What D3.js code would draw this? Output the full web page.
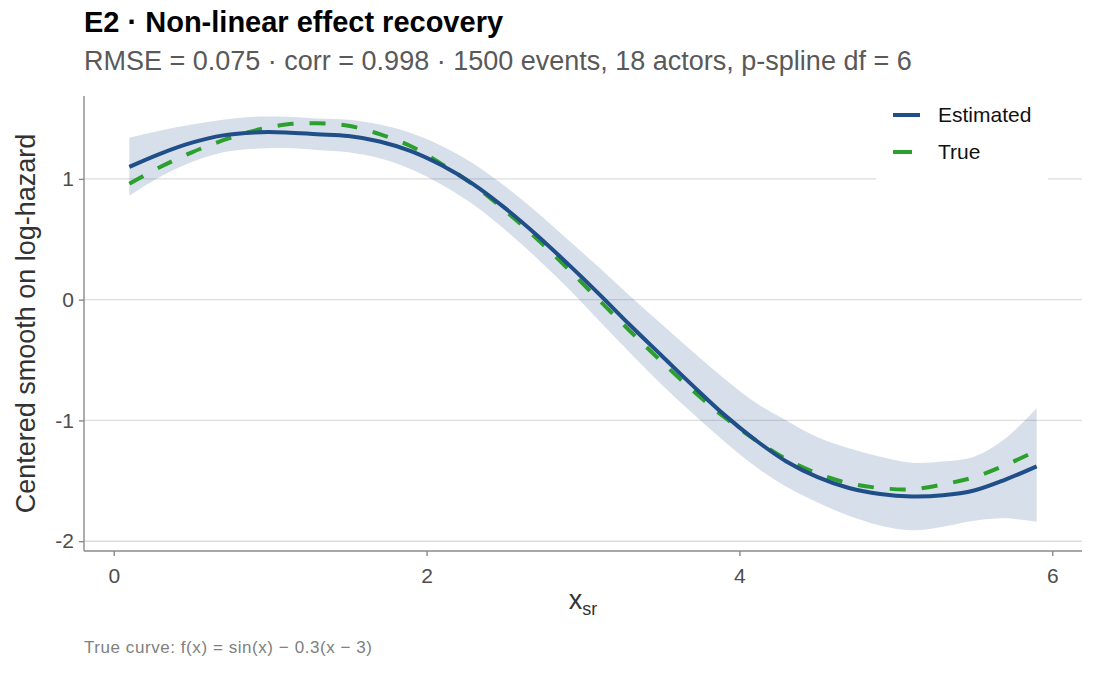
<!DOCTYPE html>
<html>
<head>
<meta charset="utf-8">
<script src="https://cdn.jsdelivr.net/npm/d3@7/dist/d3.min.js"></script>
<style>
  html, body { margin: 0; padding: 0; background: #ffffff; }
  svg { display: block; font-family: "Liberation Sans", Arial, sans-serif; }
</style>
</head>
<body>
<svg id="chart" width="1095" height="675"></svg>
<script>
// ---- data ----
const xGrid     = [0.1, 0.3, 0.5, 0.7, 0.9, 1.1, 1.3, 1.5, 1.7, 1.9, 2.1, 2.3, 2.5, 2.7, 2.9, 3.1, 3.3, 3.5, 3.7, 3.9, 4.1, 4.3, 4.5, 4.7, 4.9, 5.1, 5.3, 5.5, 5.7, 5.9];
const estimated = [1.10, 1.21, 1.30, 1.36, 1.385, 1.385, 1.37, 1.355, 1.31, 1.23, 1.11, 0.955, 0.76, 0.54, 0.30, 0.05, -0.21, -0.46, -0.71, -0.95, -1.16, -1.34, -1.47, -1.56, -1.61, -1.63, -1.62, -1.58, -1.49, -1.38];
const lowerCI   = [0.86, 1.02, 1.14, 1.22, 1.25, 1.255, 1.24, 1.22, 1.17, 1.08, 0.95, 0.785, 0.58, 0.35, 0.10, -0.17, -0.44, -0.70, -0.94, -1.17, -1.38, -1.55, -1.68, -1.79, -1.87, -1.91, -1.88, -1.83, -1.81, -1.84];
const upperCI   = [1.34, 1.40, 1.45, 1.49, 1.515, 1.515, 1.50, 1.49, 1.45, 1.38, 1.27, 1.125, 0.94, 0.73, 0.50, 0.27, 0.03, -0.20, -0.43, -0.65, -0.85, -1.00, -1.14, -1.23, -1.30, -1.35, -1.34, -1.30, -1.15, -0.90];
const trueCurve = [0.96, 1.10, 1.22, 1.32, 1.40, 1.45, 1.46, 1.44, 1.37, 1.27, 1.12, 0.95, 0.74, 0.51, 0.26, 0.00, -0.26, -0.51, -0.75, -0.97, -1.16, -1.32, -1.44, -1.52, -1.56, -1.57, -1.53, -1.47, -1.37, -1.25];
const xTicks = [0, 2, 4, 6];
const yTicks = [-2, -1, 0, 1];
const seriesNames = ["Estimated", "True"];

// ---- layout ----
const svg = d3.select("#chart");
const W = 1095, H = 675;
const margin = { left: 84, right: 13, top: 96, bottom: 124 };
const pw = W - margin.left - margin.right;
const ph = H - margin.top - margin.bottom;

const colEst = "#1F4E89";
const colTrue = "#2CA02C";

const xs = d3.extent(xGrid);
const xpad = (xs[1] - xs[0]) * 0.05;
const x = d3.scaleLinear().domain([xs[0] - xpad, xs[1] + xpad]).range([margin.left, margin.left + pw]);
const ylo = d3.min([...lowerCI, ...trueCurve, ...estimated]);
const yhi = d3.max([...upperCI, ...trueCurve, ...estimated]);
const ypad = (yhi - ylo) * 0.05;
const y = d3.scaleLinear().domain([ylo - ypad, yhi + ypad]).range([margin.top + ph, margin.top]);

const rows = xGrid.map((v, i) => ({ x: v, est: estimated[i], lo: lowerCI[i], hi: upperCI[i], tr: trueCurve[i] }));

// gridlines
svg.append("g").selectAll("line").data(yTicks).join("line")
  .attr("x1", margin.left).attr("x2", margin.left + pw)
  .attr("y1", d => y(d)).attr("y2", d => y(d))
  .attr("stroke", "#dedede").attr("stroke-width", 1.4);

// band
svg.append("path").datum(rows)
  .attr("d", d3.area().x(d => x(d.x)).y0(d => y(d.lo)).y1(d => y(d.hi)).curve(d3.curveCatmullRom))
  .attr("fill", colEst).attr("fill-opacity", 0.18);

// true curve (dashed)
svg.append("path").datum(rows)
  .attr("d", d3.line().x(d => x(d.x)).y(d => y(d.tr)).curve(d3.curveCatmullRom))
  .attr("fill", "none").attr("stroke", colTrue).attr("stroke-width", 4)
  .attr("stroke-dasharray", "16,16");

// estimated
svg.append("path").datum(rows)
  .attr("d", d3.line().x(d => x(d.x)).y(d => y(d.est)).curve(d3.curveCatmullRom))
  .attr("fill", "none").attr("stroke", colEst).attr("stroke-width", 4);

// axes
const axisCol = "#8a8a8a";
const tickTextCol = "#4d4d4d";
const xAxis = svg.append("g").attr("transform", `translate(0,${margin.top + ph})`)
  .call(d3.axisBottom(x).tickValues(xTicks).tickSize(5).tickPadding(12).tickFormat(d => String(d)));
const yAxis = svg.append("g").attr("transform", `translate(${margin.left},0)`)
  .call(d3.axisLeft(y).tickValues(yTicks).tickSize(5).tickPadding(5).tickFormat(d => String(d)));
[xAxis, yAxis].forEach(a => {
  a.select(".domain").attr("stroke", axisCol).attr("stroke-width", 1.4);
  a.selectAll(".tick line").attr("stroke", axisCol).attr("stroke-width", 1.4);
  a.selectAll(".tick text").attr("fill", tickTextCol).attr("font-size", 21)
    .attr("font-family", "'Liberation Sans', Arial, sans-serif");
});
xAxis.select(".domain").attr("d", `M${margin.left},0H${margin.left + pw}`);
yAxis.select(".domain").attr("d", `M0,${margin.top}V${margin.top + ph}`);

// titles
svg.append("text").attr("x", 84).attr("y", 32).attr("font-size", 29).attr("font-weight", "bold")
  .attr("fill", "#000").text("E2 · Non-linear effect recovery");
svg.append("text").attr("x", 84).attr("y", 70).attr("font-size", 27).attr("fill", "#595959")
  .text("RMSE = 0.075 · corr = 0.998 · 1500 events, 18 actors, p-spline df = 6");

// axis titles
svg.append("text").attr("transform", `translate(35,${margin.top + ph / 2}) rotate(-90)`)
  .attr("text-anchor", "middle").attr("font-size", 27).attr("fill", "#333")
  .text("Centered smooth on log-hazard");
const xt = svg.append("text").attr("x", margin.left + pw / 2).attr("y", 609)
  .attr("text-anchor", "middle").attr("font-size", 27).attr("fill", "#333");
xt.append("tspan").text("x");
xt.append("tspan").attr("font-size", 18).attr("dy", 6).text("sr");

// caption
svg.append("text").attr("x", 84).attr("y", 653).attr("font-size", 17).attr("fill", "#808080")
  .attr("textLength", 288).attr("lengthAdjust", "spacing")
  .text("True curve: f(x) = sin(x) − 0.3(x − 3)");

// legend
const lg = svg.append("g");
lg.append("rect").attr("x", 876).attr("y", 96).attr("width", 172).attr("height", 89).attr("fill", "#fff");
const legRows = [
  { name: seriesNames[0], col: colEst, y: 115, len: 27 },
  { name: seriesNames[1], col: colTrue, y: 152, len: 19 }
];
legRows.forEach(r => {
  lg.append("line").attr("x1", 893).attr("x2", 893 + r.len).attr("y1", r.y).attr("y2", r.y)
    .attr("stroke", r.col).attr("stroke-width", 4);
  lg.append("text").attr("x", 938).attr("y", r.y + 7).attr("font-size", 21).attr("fill", "#111").text(r.name);
});
</script>
</body>
</html>
